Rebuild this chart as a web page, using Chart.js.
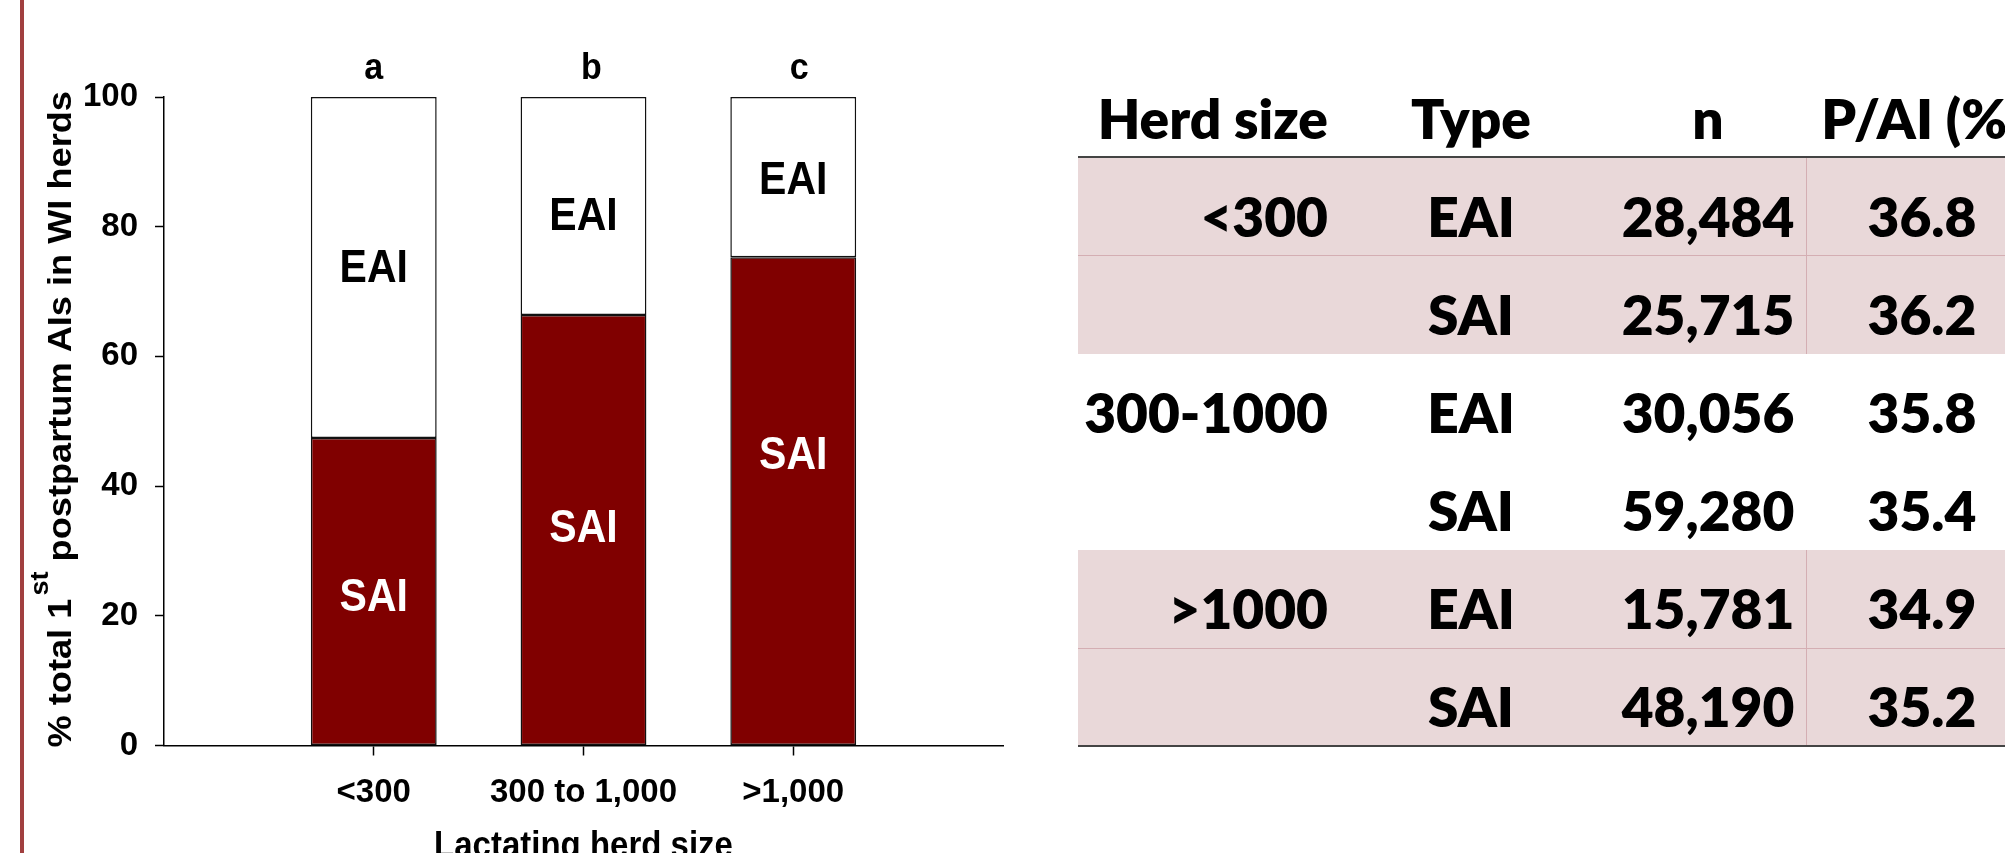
<!DOCTYPE html>
<html>
<head>
<meta charset="utf-8">
<script src="https://cdn.jsdelivr.net/npm/chart.js@4/dist/chart.umd.min.js"></script>
<style>
html,body{margin:0;padding:0;width:2005px;height:853px;overflow:hidden;background:#fff;}
#redline{position:absolute;left:20px;top:0;width:4px;height:853px;background:#a13f3f;}
#chartBox{position:absolute;left:0;top:0;width:1050px;height:853px;}
#tbl{position:absolute;left:0;top:0;width:2005px;height:853px;overflow:hidden;}
.cell{position:absolute;white-space:nowrap;font-family:Lato,"Open Sans",sans-serif;font-weight:800;color:#000;}
.band{position:absolute;background:#e9d8d9;}
.rule{position:absolute;}
</style>
</head>
<body>
<div id="redline"></div>
<div id="chartBox"><canvas id="c"></canvas></div>
<div id="tbl"></div>
<script>
// ---- chart data ----
const categories = ['<300', '300 to 1,000', '>1,000'];
const saiPct = [47.4, 66.4, 75.3];
const eaiPct = [52.6, 33.6, 24.7];
const sigLetters = ['a', 'b', 'c'];
const saiLabelAt = [23.2, 33.9, 45.2];
const eaiLabelAt = [74.0, 82.1, 87.6];
const yTickStep = 20;
const yMax = 100;
const xTitle = 'Lactating herd size';
const yTitleParts = ['% total 1', 'st', ' postpartum AIs in WI herds'];

// ---- table data ----
const tableHeaders = ['Herd size', 'Type', 'n', 'P/AI (%)'];
const herdSizes = ['<300', '', '300-1000', '', '>1000', ''];
const aiTypes = ['EAI', 'SAI', 'EAI', 'SAI', 'EAI', 'SAI'];
const nCounts = ['28,484', '25,715', '30,056', '59,280', '15,781', '48,190'];
const paiPct = ['36.8', '36.2', '35.8', '35.4', '34.9', '35.2'];

const ARIAL = '"Liberation Sans", Arial, Helvetica, sans-serif';
const letterNudge = [0, 8, 6]; // small horizontal nudges of the significance letters (px)

const overlay = {
  id: 'overlay',
  afterDraw(chart) {
    const ctx = chart.ctx, xs = chart.scales.x, ys = chart.scales.y;
    const txt = (t, px, cy, size, color, sy) => {
      ctx.save();
      ctx.font = `bold ${size}px ${ARIAL}`;
      ctx.fillStyle = color;
      ctx.textAlign = 'center';
      ctx.textBaseline = 'alphabetic';
      ctx.translate(px, cy + 0.358 * size * sy);
      ctx.scale(1, sy);
      ctx.fillText(t, 0, 0);
      ctx.restore();
    };
    categories.forEach((c, i) => {
      const px = xs.getPixelForValue(i + 1);
      txt('EAI', px, ys.getPixelForValue(eaiLabelAt[i]), 41, '#000', 1.12);
      txt('SAI', px, ys.getPixelForValue(saiLabelAt[i]), 41, '#fff', 1.12);
      ctx.save();
      ctx.font = `bold 34px ${ARIAL}`;
      ctx.fillStyle = '#000';
      ctx.textAlign = 'center';
      ctx.textBaseline = 'alphabetic';
      ctx.translate(px + letterNudge[i], ys.getPixelForValue(yMax) - 18);
      ctx.scale(1, 1.1);
      ctx.fillText(sigLetters[i], 0, 0);
      ctx.restore();
    });
    // x title
    ctx.save();
    ctx.font = `bold 33px ${ARIAL}`;
    ctx.fillStyle = '#000';
    ctx.textAlign = 'center';
    ctx.textBaseline = 'alphabetic';
    ctx.translate((xs.left + xs.right) / 2, 857);
    ctx.scale(1, 1.1);
    ctx.fillText(xTitle, 0, 0);
    ctx.restore();
    // y title with superscript
    ctx.save();
    const mainF = `bold 33.5px ${ARIAL}`, supF = `bold 25px ${ARIAL}`;
    ctx.font = mainF; const w1 = ctx.measureText(yTitleParts[0]).width;
    const w3 = ctx.measureText(yTitleParts[2]).width;
    ctx.font = supF; const w2 = ctx.measureText(yTitleParts[1]).width;
    const gap = 3;
    const W = w1 + w2 + w3 + gap;
    ctx.translate(70.5, (ys.top + ys.bottom) / 2 - 2);
    ctx.rotate(-Math.PI / 2);
    ctx.scale(1.08, 1);
    ctx.fillStyle = '#000';
    ctx.textAlign = 'left';
    ctx.textBaseline = 'alphabetic';
    let x0 = -W / 2;
    ctx.font = mainF; ctx.fillText(yTitleParts[0], x0, 0); x0 += w1 + gap;
    ctx.font = supF; ctx.fillText(yTitleParts[1], x0, -23); x0 += w2;
    ctx.font = mainF; ctx.fillText(yTitleParts[2], x0, 0);
    ctx.restore();
  }
};

new Chart(document.getElementById('c'), {
  type: 'bar',
  data: {
    labels: ['', ...categories, ''],
    datasets: [
      { label: 'SAI', data: [null, ...saiPct, null], backgroundColor: '#800000', borderColor: '#111', borderWidth: 1.5, borderSkipped: false },
      { label: 'EAI', data: [null, ...eaiPct, null], backgroundColor: '#ffffff', borderColor: '#111', borderWidth: 1.5, borderSkipped: false }
    ]
  },
  options: {
    responsive: true,
    maintainAspectRatio: false,
    animation: false,
    layout: { padding: { top: 97, right: 47, left: 0, bottom: 0 } },
    datasets: { bar: { categoryPercentage: 1, barPercentage: 0.6 } },
    plugins: { legend: { display: false }, tooltip: { enabled: false } },
    scales: {
      x: {
        stacked: true,
        offset: false,
        grid: { offset: false, drawOnChartArea: false, tickLength: 10, tickWidth: 1.5,
                tickColor: (c) => (c.index === 0 || c.index === categories.length + 1) ? 'rgba(0,0,0,0)' : '#000' },
        border: { color: '#000', width: 1.5 },
        ticks: { color: '#000', font: { family: ARIAL, weight: 'bold', size: 33 }, padding: 18, maxRotation: 0, autoSkip: false },
        afterFit: (s) => { s.height = 107.5; }
      },
      y: {
        stacked: true,
        min: 0, max: yMax,
        grid: { drawOnChartArea: false, tickLength: 9, tickWidth: 1.5, tickColor: '#000' },
        border: { color: '#000', width: 1.5 },
        ticks: { stepSize: yTickStep, color: '#000', font: { family: ARIAL, weight: 'bold', size: 33 }, padding: 17 },
        afterFit: (s) => { s.width = 164; }
      }
    }
  },
  plugins: [overlay]
});

// ---- table ----
(function buildTable() {
  const host = document.getElementById('tbl');
  const FS = 55, LH = 70;
  const mc = document.createElement('canvas').getContext('2d');
  mc.font = `800 ${FS}px Lato`;
  const m = mc.measureText('Hg');
  const A = m.fontBoundingBoxAscent, D = m.fontBoundingBoxDescent;
  const baseOff = (LH - (A + D)) / 2 + A;
  const left = 1078, headLine = 156.5, rowH = 98.15, firstBase = 236.7, headBase = 139.3;
  const cols = [
    { l: 1078, w: 250, a: 'right' },
    { l: 1333, w: 276, a: 'center' },
    { l: 1609, w: 198, a: 'center' },
    { l: 1807, w: 230, a: 'center' }
  ];
  const rowTop = (i) => headLine + 1 + rowH * i;
  const add = (cls, css) => { const d = document.createElement('div'); d.className = cls; Object.assign(d.style, css); host.appendChild(d); return d; };
  [[0, 2], [4, 6]].forEach(([a, b]) => {
    add('band', { left: left + 'px', top: rowTop(a) + 'px', width: (2005 - left) + 'px', height: (rowTop(b) - rowTop(a)) + 'px' });
    add('rule', { left: left + 'px', top: (rowTop(a + 1) - 0.5) + 'px', width: (2005 - left) + 'px', height: '1px', background: '#d4aeb3' });
    add('rule', { left: '1806px', top: rowTop(a) + 'px', width: '1px', height: (rowTop(b) - rowTop(a)) + 'px', background: '#d4aeb3' });
  });
  add('rule', { left: left + 'px', top: (headLine - 1) + 'px', width: (2005 - left) + 'px', height: '2px', background: '#444' });
  add('rule', { left: left + 'px', top: (rowTop(6) - 1) + 'px', width: (2005 - left) + 'px', height: '1.5px', background: '#444' });
  const cell = (t, col, base) => {
    const c = cols[col];
    add('cell', { left: c.l + 'px', width: c.w + 'px', textAlign: c.a, top: (base - baseOff) + 'px', height: LH + 'px', lineHeight: LH + 'px', fontSize: FS + 'px' }).textContent = t;
  };
  tableHeaders.forEach((h, j) => cell(h, j, headBase));
  for (let i = 0; i < aiTypes.length; i++) {
    const b = firstBase + rowH * i;
    cell(herdSizes[i], 0, b);
    cell(aiTypes[i], 1, b);
    cell(nCounts[i], 2, b);
    cell(paiPct[i], 3, b);
  }
})();
</script>
</body>
</html>
